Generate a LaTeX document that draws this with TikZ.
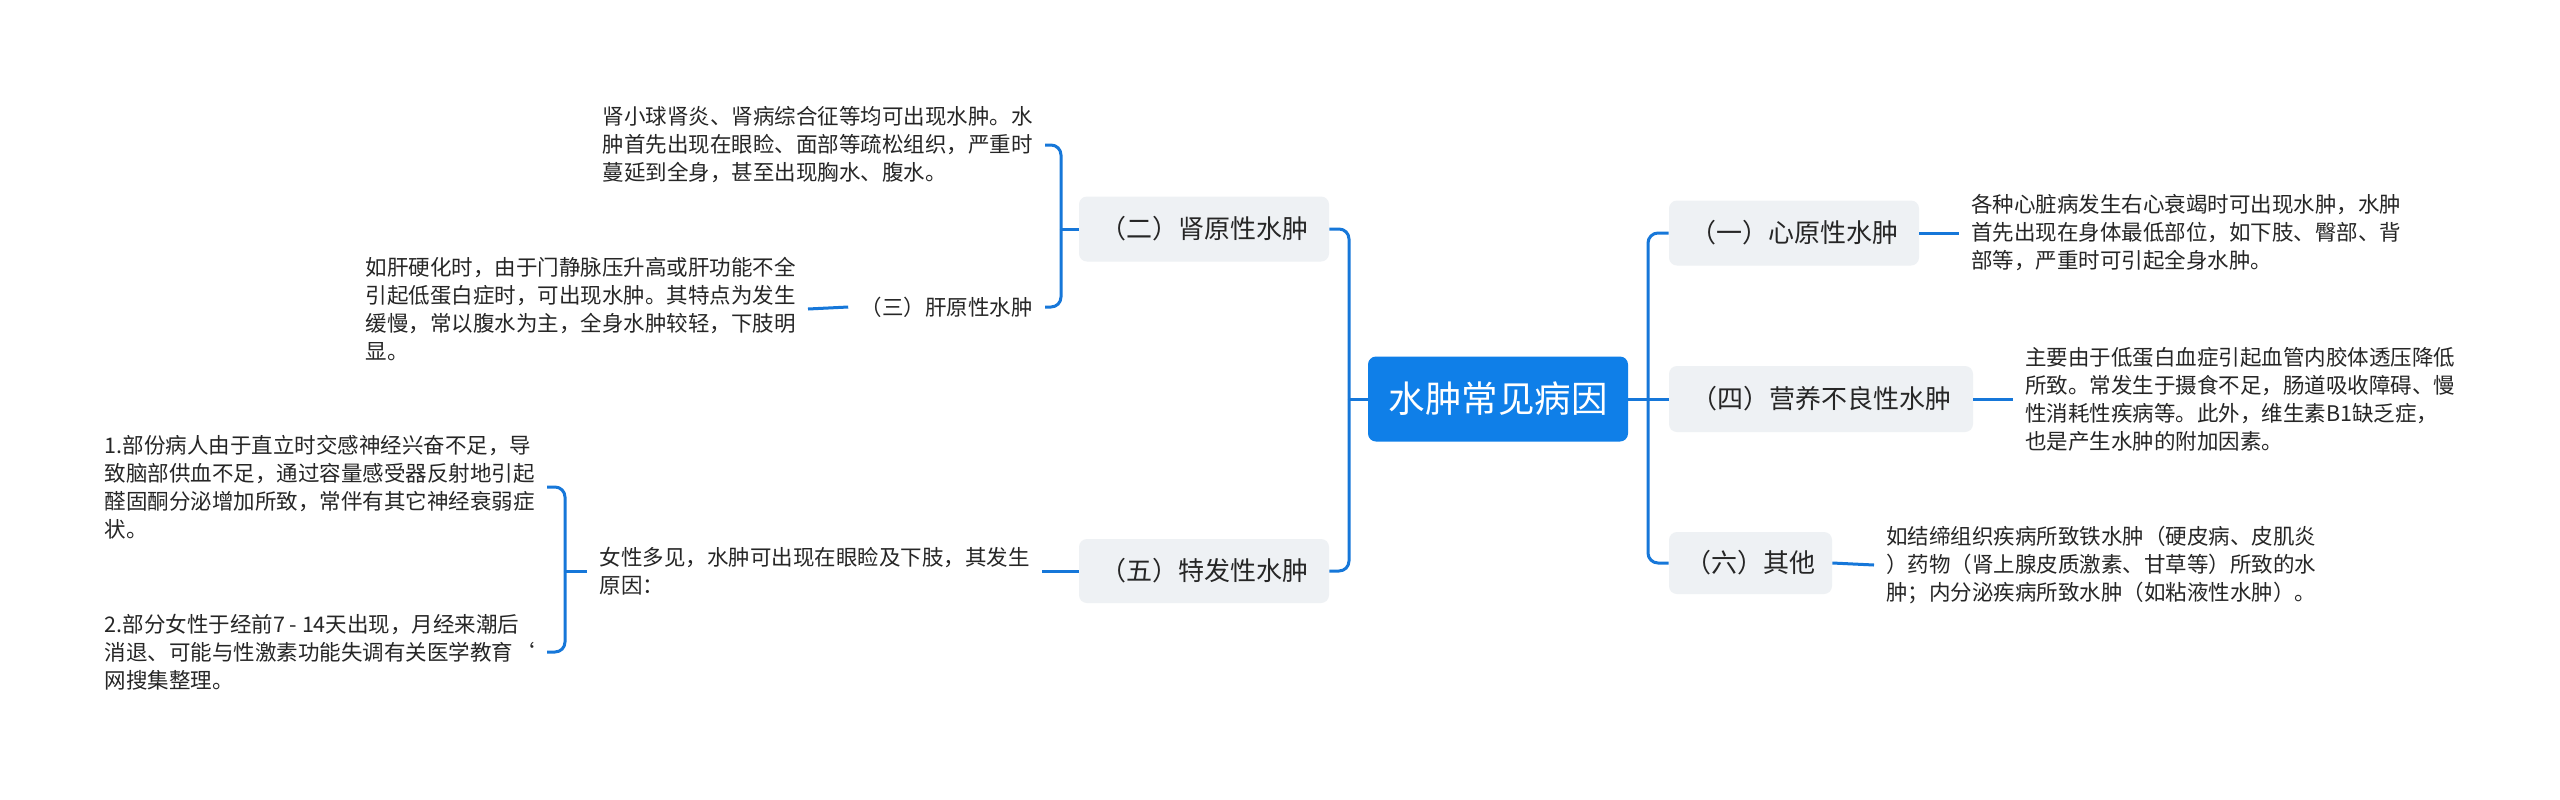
\documentclass[tikz,border=0pt]{standalone}
\usepackage{fontspec}
\setmainfont{Noto Sans CJK SC}
\definecolor{rootblue}{HTML}{0F7FE8}
\definecolor{cblue}{HTML}{1677D9}
\definecolor{boxgray}{HTML}{EEF1F4}
\definecolor{txt}{HTML}{262626}
\tikzset{
  conn/.style={draw=cblue, line width=1.5pt, rounded corners=5pt},
  rootbox/.style={fill=rootblue, text=white, rounded corners=4pt, minimum width=130pt, minimum height=42.5pt, inner sep=0pt, font=\fontsize{18.25pt}{22pt}\selectfont},
  mainbox/.style={fill=boxgray, text=txt, rounded corners=4pt, minimum height=32.5pt, inner sep=0pt, font=\fontsize{13pt}{16pt}\selectfont},
  detail/.style={text=txt, align=left, inner xsep=6pt, inner ysep=2pt, font=\fontsize{10.75pt}{14pt}\selectfont},
}
\begin{document}
\begin{tikzpicture}[x=0.5pt,y=-0.5pt]
\useasboundingbox (0,0) rectangle (2560,799);
\fill[white] (0,0) rectangle (2560,799);

% root
\node[rootbox] (root) at (1498,399) {水肿常见病因};

% right main
\node[mainbox, minimum width=125pt] (xin) at (1794,233) {（一）心原性水肿};
\node[mainbox, minimum width=152pt, minimum height=33pt] (ying) at (1821,399) {（四）营养不良性水肿};
\node[mainbox, minimum width=81.5pt, minimum height=31pt] (qita) at (1750.5,563) {（六）其他};

% left main
\node[mainbox, minimum width=125pt] (shen) at (1204,229) {（二）肾原性水肿};
\node[mainbox, minimum width=125pt, minimum height=32pt] (te) at (1204,571) {（五）特发性水肿};

% right details
\node[detail, anchor=west] (xintext) at (1959,233) {各种心脏病发生右心衰竭时可出现水肿，水肿\\首先出现在身体最低部位，如下肢、臀部、背\\部等，严重时可引起全身水肿。};
\node[detail, anchor=west] (yingtext) at (2013,399) {主要由于低蛋白血症引起血管内胶体透压降低\\所致。常发生于摄食不足，肠道吸收障碍、慢\\性消耗性疾病等。此外，维生素B1缺乏症，\\也是产生水肿的附加因素。};
\node[detail, anchor=west] (qitatext) at (1874,565) {如结缔组织疾病所致铁水肿（硬皮病、皮肌炎\\）药物（肾上腺皮质激素、甘草等）所致的水\\肿；内分泌疾病所致水肿（如粘液性水肿）。};

% left details
\node[detail, anchor=east] (shentext) at (1045,145) {肾小球肾炎、肾病综合征等均可出现水肿。水\\肿首先出现在眼睑、面部等疏松组织，严重时\\蔓延到全身，甚至出现胸水、腹水。};
\node[detail, anchor=east] (gan) at (1045,307) {（三）肝原性水肿};
\node[detail, anchor=east] (gantext) at (808,309) {如肝硬化时，由于门静脉压升高或肝功能不全\\引起低蛋白症时，可出现水肿。其特点为发生\\缓慢，常以腹水为主，全身水肿较轻，下肢明\\显。};
\node[detail, anchor=east] (nvx) at (1042,571) {女性多见，水肿可出现在眼睑及下肢，其发生\\原因：};
\node[detail, anchor=east] (c1) at (547,487) {1.部份病人由于直立时交感神经兴奋不足，导\\致脑部供血不足，通过容量感受器反射地引起\\醛固酮分泌增加所致，常伴有其它神经衰弱症\\状。};
\node[detail, anchor=east] (c2) at (547,652) {2.部分女性于经前7 - 14天出现，月经来潮后\\消退、可能与性激素功能失调有关医学教育{\char"60}\\网搜集整理。};

% trunk coordinates
\coordinate (trunkR) at (1648,399);
\coordinate (trunkL) at (1349,399);
\coordinate (bk1) at (1061,229);
\coordinate (bk2) at (565,571);

% connectors right
\draw[conn] (root.east) -- (trunkR);
\draw[conn] (trunkR) |- (xin.west);
\draw[conn] (trunkR) -- (ying.west);
\draw[conn] (trunkR) |- (qita.west);
\draw[conn] (xin.east) -- (xintext.west);
\draw[conn] (ying.east) -- (yingtext.west);
\draw[conn] (qita.east) -- (qitatext.west);

% connectors left
\draw[conn] (root.west) -- (trunkL);
\draw[conn] (trunkL) |- (shen.east);
\draw[conn] (trunkL) |- (te.east);
\draw[conn] (shen.west) -- (bk1);
\draw[conn] (bk1) |- (shentext.east);
\draw[conn] (bk1) |- (gan.east);
\draw[conn] (gan.west) -- (gantext.east);
\draw[conn] (te.west) -- (nvx.east);
\draw[conn] (nvx.west) -- (bk2);
\draw[conn] (bk2) |- (c1.east);
\draw[conn] (bk2) |- (c2.east);
\end{tikzpicture}
\end{document}
